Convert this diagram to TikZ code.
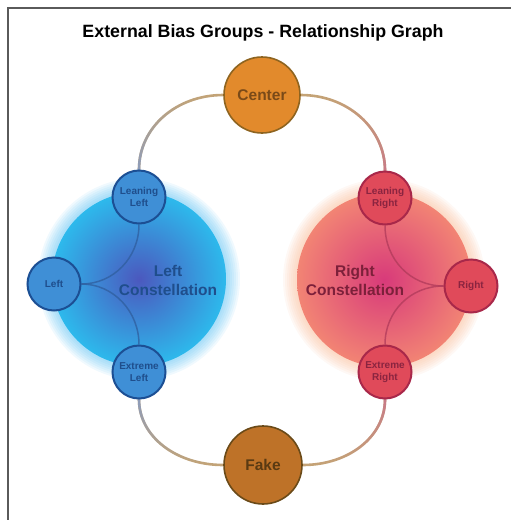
\documentclass[tikz,border=0pt]{standalone}
\usepackage{fontspec}
\setmainfont{Liberation Sans}
\usetikzlibrary{fadings}
\pgfdeclarelayer{bg}
\pgfsetlayers{bg,main}
\definecolor{frameC}{HTML}{5A5A5A}
\definecolor{tanC}{HTML}{C4A476}
\definecolor{blueGrayC}{HTML}{8C9CBC}
\definecolor{pinkC}{HTML}{C87A88}
\definecolor{lFill}{HTML}{3F8FD6}
\definecolor{lDraw}{HTML}{1C4F94}
\definecolor{lText}{HTML}{1F4E8C}
\definecolor{rFill}{HTML}{E04A5A}
\definecolor{rDraw}{HTML}{A8284A}
\definecolor{rText}{HTML}{8A2440}
\definecolor{cFill}{HTML}{E28A2C}
\definecolor{cDraw}{HTML}{8E6420}
\definecolor{cText}{HTML}{7A4A18}
\definecolor{fFill}{HTML}{BE7228}
\definecolor{fDraw}{HTML}{6A4A18}
\definecolor{fText}{HTML}{5A3A12}
\definecolor{lBigOut}{HTML}{2DB9EC}
\definecolor{lBigIn}{HTML}{4B58BE}
\definecolor{lHalo}{HTML}{3CB4F0}
\definecolor{rBigOut}{HTML}{F28474}
\definecolor{rBigIn}{HTML}{D83A7A}
\definecolor{rHalo}{HTML}{F8B48C}
\definecolor{lLink}{HTML}{2F5E9E}
\definecolor{rLink}{HTML}{B03A5A}
\tikzset{
  smallnode/.style={circle, minimum size=53pt, inner sep=0pt, line width=2pt, align=center,
     font=\fontsize{10}{11.7}\selectfont\bfseries},
  lnode/.style={smallnode, fill=lFill, draw=lDraw, text=lText},
  rnode/.style={smallnode, fill=rFill, draw=rDraw, text=rText},
  bignode/.style={circle, minimum size=76pt, inner sep=0pt, line width=1.6pt,
     font=\fontsize{15.5}{18}\selectfont\bfseries},
  bigcircle/.style={circle, minimum size=174pt, inner sep=0pt},
  constext/.style={align=center, font=\fontsize{15.5}{19}\selectfont\bfseries},
  innerlink/.style={line width=1.5pt, draw opacity=0.75},
  outerlink/.style={line width=2.6pt, line cap=round},
}
\begin{document}
\begin{tikzpicture}[x=1pt,y=-1pt]
\useasboundingbox (0,0) rectangle (511,520);
% frame
\draw[frameC, line width=1.3pt] (8,520) -- (8,8) -- (511,8);
% title
\node[font=\fontsize{17.8}{20}\selectfont\bfseries] (title) at (263,33) {External Bias Groups - Relationship Graph};
% nodes
\node[bignode, fill=cFill, draw=cDraw, text=cText] (center) at (262,95) {Center};
\node[bignode, minimum size=78pt, fill=fFill, draw=fDraw, text=fText] (fake) at (263,465) {Fake};
\node[lnode] (ll) at (139,197) {Leaning\\Left};
\node[lnode] (l) at (54,284) {Left};
\node[lnode] (el) at (139,372) {Extreme\\Left};
\node[rnode] (lr) at (385,198) {Leaning\\Right};
\node[rnode] (r) at (471,286) {Right};
\node[rnode] (er) at (385,372) {Extreme\\Right};
\begin{pgfonlayer}{bg}
% halos
\foreach \r in {101,99,...,87} {
  \fill[lHalo, opacity=0.08] (139,279) circle (\r);
  \fill[rHalo, opacity=0.09] (384,280) circle (\r);
}
% big constellations
\node[bigcircle, inner color=lBigIn, outer color=lBigOut] (lbig) at (139,279) {};
\node[bigcircle, inner color=rBigIn, outer color=rBigOut] (rbig) at (384,280) {};
\node[constext, text=lText] (ltxt) at (168,280) {Left\\Constellation};
\node[constext, text=rText!90!black] (rtxt) at (355,280) {Right\\Constellation};
% inner links
\draw[innerlink, lLink] (l.east) .. controls +(32,0) and +(0,33) .. (ll.south);
\draw[innerlink, lLink] (l.east) .. controls +(32,0) and +(0,-33) .. (el.north);
\draw[innerlink, rLink] (r.west) .. controls +(-33,0) and +(0,34) .. (lr.south);
\draw[innerlink, rLink] (r.west) .. controls +(-33,0) and +(0,-33) .. (er.north);
% outer links (gradient by overlay with fading)
\draw[outerlink, tanC] (center.west) .. controls +(-47,0) and +(0,-42) .. (ll.north);
\draw[outerlink, blueGrayC, path fading=north] (center.west) .. controls +(-47,0) and +(0,-42) .. (ll.north);
\draw[outerlink, tanC] (center.east) .. controls +(47,0) and +(0,-42) .. (lr.north);
\draw[outerlink, pinkC, path fading=north] (center.east) .. controls +(47,0) and +(0,-42) .. (lr.north);
\draw[outerlink, tanC] (el.south) .. controls +(0,37) and +(-47,0) .. (fake.west);
\draw[outerlink, blueGrayC, path fading=south] (el.south) .. controls +(0,37) and +(-47,0) .. (fake.west);
\draw[outerlink, tanC] (er.south) .. controls +(0,37) and +(46,0) .. (fake.east);
\draw[outerlink, pinkC, path fading=south] (er.south) .. controls +(0,37) and +(46,0) .. (fake.east);
\end{pgfonlayer}
\end{tikzpicture}
\end{document}
